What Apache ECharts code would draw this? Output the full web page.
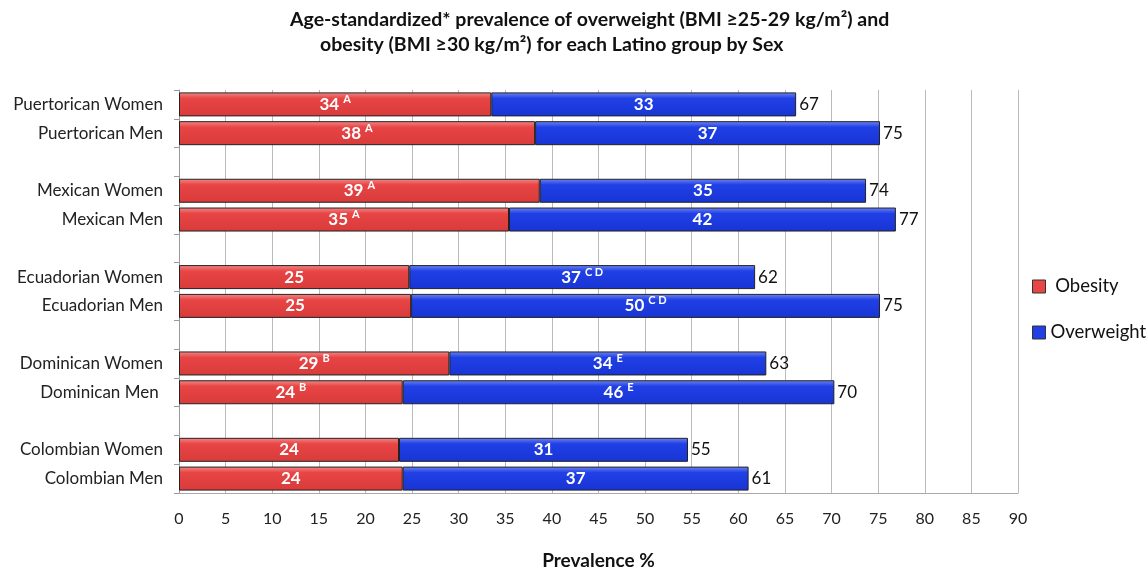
<!DOCTYPE html>
<html>
<head>
<meta charset="utf-8">
<script src="https://cdn.jsdelivr.net/npm/echarts@6/dist/echarts.min.js"></script>
<style>
  html, body { margin: 0; padding: 0; background: #fff; }
  #chart { width: 1148px; height: 568px; }
</style>
</head>
<body>
<div id="chart"></div>
<script>
// empty names are the spacer rows between groups
var categories = ['Puertorican Women', 'Puertorican Men', '', 'Mexican Women', 'Mexican Men', '',
  'Ecuadorian Women', 'Ecuadorian Men', '', 'Dominican Women', 'Dominican Men ', '',
  'Colombian Women', 'Colombian Men'];
var obesity = [33.5, 38.2, '-', 38.7, 35.4, '-', 24.7, 24.9, '-', 29.0, 24.0, '-', 23.6, 24.0];
var overweight = [32.7, 37.0, '-', 35.0, 41.5, '-', 37.1, 50.3, '-', 34.0, 46.3, '-', 31.0, 37.1];
var obesityText = ['34', '38', '', '39', '35', '', '25', '25', '', '29', '24', '', '24', '24'];
var obesitySup = ['A', 'A', '', 'A', 'A', '', '', '', '', 'B', 'B', '', '', ''];
var overweightText = ['33', '37', '', '35', '42', '', '37', '50', '', '34', '46', '', '31', '37'];
var overweightSup = ['', '', '', '', '', '', 'C D', 'C D', '', 'E', 'E', '', '', ''];
var totals = ['67', '75', '', '74', '77', '', '62', '75', '', '63', '70', '', '55', '61'];
var xTicks = { min: 0, max: 90, interval: 5 };

var FONT = 'Lato, "Open Sans", sans-serif';

function grad(top, mid, bottom) {
  return new echarts.graphic.LinearGradient(0, 0, 0, 1, [
    { offset: 0, color: top },
    { offset: 0.25, color: mid },
    { offset: 1, color: bottom }
  ]);
}

function innerLabel(texts, sups) {
  return function (p) {
    var t = texts[p.dataIndex];
    var s = sups[p.dataIndex];
    return s ? '{n|' + t + '}{s|' + s + '}' : '{n|' + t + '}';
  };
}

var innerRich = {
  n: { color: '#fff', fontWeight: 'bold', fontSize: 17, fontFamily: FONT },
  s: { color: '#fff', fontWeight: 'bold', fontSize: 11, fontFamily: FONT, padding: [0, 0, 10, 4] }
};

var titleStyle = { fontFamily: FONT, fontSize: 19.5, fontWeight: 'bold', color: '#111' };

var myChart = echarts.init(document.getElementById('chart'));

var option = {
  backgroundColor: '#fff',
  animation: false,
  title: [
    {
      text: 'Age-standardized* prevalence of overweight (BMI \u226525-29 kg/m\u00b2) and',
      left: 290, top: 10, padding: 0,
      textStyle: titleStyle
    },
    {
      text: 'obesity (BMI \u226530 kg/m\u00b2) for each Latino group by Sex',
      left: 320, top: 35, padding: 0,
      textStyle: titleStyle
    }
  ],
  legend: {
    orient: 'vertical',
    left: 1027,
    top: 272,
    itemGap: 27,
    itemWidth: 13,
    itemHeight: 13,
    icon: 'rect',
    textStyle: { fontFamily: FONT, fontSize: 18.5, color: '#111', padding: [0, 0, 0, 0] },
    data: [
      { name: 'Obesity', itemStyle: { color: '#e84545', borderColor: '#333', borderWidth: 1 } },
      { name: 'Overweight', itemStyle: { color: '#2040e6', borderColor: '#333', borderWidth: 1 } }
    ],
    formatter: function (name) { return name === 'Obesity' ? ' ' + name : name; }
  },
  grid: { left: 179, right: 130, top: 90, bottom: 75, outerBoundsMode: 'none', containLabel: false },
  xAxis: {
    type: 'value',
    min: xTicks.min,
    max: xTicks.max,
    interval: xTicks.interval,
    name: 'Prevalence %',
    nameLocation: 'middle',
    nameGap: 58,
    nameTextStyle: { fontFamily: FONT, fontSize: 19, fontWeight: 'bold', color: '#111' },
    axisLine: { show: true, lineStyle: { color: '#aaa', width: 1 } },
    axisTick: { show: false },
    axisLabel: { fontFamily: FONT, fontSize: 16, color: '#222', margin: 18 },
    splitLine: { show: true, lineStyle: { color: '#bbb', width: 1 } }
  },
  yAxis: {
    type: 'category',
    inverse: true,
    data: categories,
    axisLine: { show: true, lineStyle: { color: '#999', width: 1 } },
    axisTick: { show: true, length: 5, interval: 0, lineStyle: { color: '#999' } },
    axisLabel: { fontFamily: FONT, fontSize: 17, color: '#222', margin: 16, interval: 0 }
  },
  series: [
    {
      name: 'Obesity',
      type: 'bar',
      stack: 'total',
      barWidth: 24,
      data: obesity,
      itemStyle: { color: grad('#f38a8a', '#e84545', '#d83a3a'), borderColor: '#222', borderWidth: 1 },
      label: {
        show: true,
        position: 'inside',
        formatter: innerLabel(obesityText, obesitySup),
        rich: innerRich
      }
    },
    {
      name: 'Overweight',
      type: 'bar',
      stack: 'total',
      barWidth: 24,
      data: overweight,
      itemStyle: { color: grad('#6f86f2', '#2040e6', '#1834d4'), borderColor: '#222', borderWidth: 1 },
      label: {
        show: true,
        position: 'inside',
        formatter: innerLabel(overweightText, overweightSup),
        rich: innerRich
      }
    },
    {
      // totals at end of each stacked bar
      name: 'Total',
      type: 'bar',
      stack: 'total',
      barWidth: 24,
      data: overweight.map(function (v) { return v === '-' ? '-' : 0; }),
      itemStyle: { color: 'transparent' },
      label: {
        show: true,
        position: 'right',
        distance: 3,
        formatter: function (p) { return totals[p.dataIndex]; },
        fontFamily: FONT,
        fontSize: 17,
        color: '#111'
      },
      tooltip: { show: false }
    }
  ]
};

myChart.setOption(option);
</script>
</body>
</html>
